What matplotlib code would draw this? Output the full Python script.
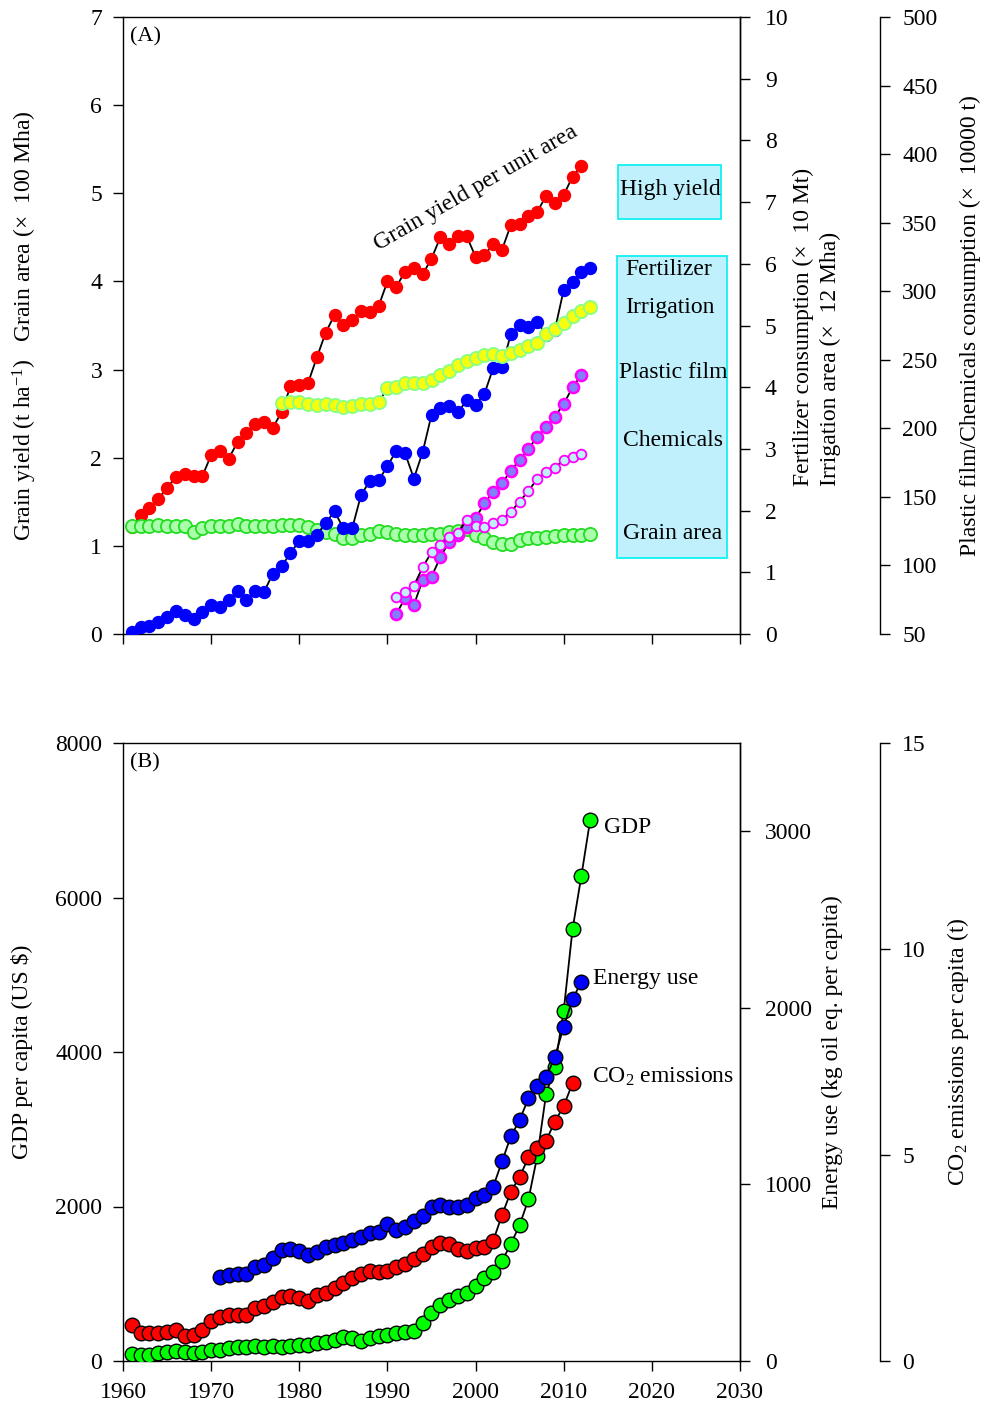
import matplotlib
matplotlib.use('Agg')
import matplotlib.pyplot as plt
from matplotlib import font_manager
from matplotlib.patches import Rectangle

# locate a Times-like serif font robustly
serif_name = 'Liberation Serif'
for path in font_manager.findSystemFonts():
    base = path.replace('\\', '/').split('/')[-1]
    if base.startswith('LiberationSerif-'):
        try:
            font_manager.fontManager.addfont(path)
            if base.startswith('LiberationSerif-Regular'):
                serif_name = font_manager.FontProperties(fname=path).get_name()
        except Exception:
            pass

plt.rcParams['font.family'] = [serif_name, 'DejaVu Serif']
plt.rcParams['mathtext.fontset'] = 'custom'
plt.rcParams['mathtext.rm'] = serif_name
plt.rcParams['mathtext.it'] = serif_name + ':italic'
plt.rcParams['mathtext.bf'] = serif_name + ':bold'

# ---------------- Panel A data ----------------
years_yield = list(range(1961, 2013))
grain_yield = [1.21, 1.35, 1.43, 1.53, 1.66, 1.78, 1.82, 1.79, 1.79, 2.03,
               2.08, 1.99, 2.18, 2.28, 2.38, 2.40, 2.34, 2.52, 2.81, 2.83,
               2.85, 3.14, 3.42, 3.62, 3.51, 3.56, 3.66, 3.65, 3.72, 4.00,
               3.94, 4.11, 4.15, 4.08, 4.26, 4.50, 4.42, 4.52, 4.51, 4.28,
               4.30, 4.42, 4.36, 4.64, 4.65, 4.74, 4.79, 4.97, 4.89, 4.98,
               5.19, 5.31]

years_fert = list(range(1961, 2014))
fertilizer = [0.04, 0.11, 0.13, 0.20, 0.27, 0.38, 0.31, 0.25, 0.36, 0.47,
              0.44, 0.55, 0.70, 0.55, 0.70, 0.68, 0.98, 1.10, 1.31, 1.51,
              1.50, 1.60, 1.80, 1.99, 1.71, 1.71, 2.25, 2.48, 2.49, 2.72,
              2.97, 2.93, 2.52, 2.95, 3.55, 3.66, 3.69, 3.59, 3.79, 3.71,
              3.89, 4.31, 4.33, 4.86, 5.01, 4.98, 5.06, 4.85, 4.93, 5.58,
              5.71, 5.87, 5.93]

years_area = list(range(1961, 2014))
grain_area = [1.22, 1.23, 1.22, 1.24, 1.22, 1.22, 1.22, 1.16, 1.20, 1.22,
              1.22, 1.23, 1.25, 1.22, 1.23, 1.23, 1.23, 1.24, 1.24, 1.24,
              1.21, 1.18, 1.16, 1.14, 1.09, 1.09, 1.12, 1.14, 1.17, 1.16,
              1.14, 1.12, 1.12, 1.12, 1.13, 1.14, 1.16, 1.17, 1.19, 1.12,
              1.09, 1.04, 1.02, 1.02, 1.07, 1.09, 1.09, 1.10, 1.11, 1.12,
              1.12, 1.12, 1.14]

years_irr = list(range(1978, 2014))
irrigation = [3.75, 3.76, 3.76, 3.73, 3.71, 3.73, 3.71, 3.68, 3.70, 3.72,
              3.73, 3.76, 3.98, 4.01, 4.06, 4.07, 4.07, 4.12, 4.20, 4.27,
              4.36, 4.43, 4.48, 4.52, 4.53, 4.51, 4.55, 4.60, 4.66, 4.71,
              4.87, 4.94, 5.04, 5.15, 5.24, 5.30]

years_pc = list(range(1991, 2013))
plastic_film = [64.6, 76.0, 71.2, 89.4, 91.8, 105.9, 117.3, 122.2, 127.8, 134.4,
                145.3, 153.8, 159.9, 169.1, 176.9, 184.9, 193.9, 201.2, 208.5, 217.8,
                229.9, 238.9]
chemicals = [77.2, 80.9, 85.2, 98.7, 109.6, 114.9, 120.5, 123.9, 133.2, 129.0,
             128.3, 131.2, 133.2, 139.2, 146.5, 154.5, 163.1, 167.9, 171.3, 176.9,
             179.3, 181.3]

# ---------------- Panel B data ----------------
years_gdp = list(range(1961, 2014))
gdp = [91, 78, 78, 108, 121, 134, 121, 108, 112, 142,
       142, 164, 177, 177, 194, 185, 194, 177, 194, 207,
       207, 229, 250, 272, 307, 294, 263, 294, 324, 337,
       358, 380, 392, 488, 625, 725, 790, 841, 884, 971,
       1070, 1156, 1294, 1515, 1760, 2093, 2650, 3456, 3810, 4535,
       5588, 6278, 7003]

years_energy = list(range(1971, 2013))
energy = [474, 487, 493, 493, 534, 544, 582, 629, 633, 625,
          600, 619, 647, 657, 668, 685, 704, 727, 733, 776,
          742, 757, 794, 821, 870, 883, 874, 870, 883, 921,
          940, 987, 1130, 1272, 1365, 1488, 1555, 1607, 1723, 1892,
          2049, 2147]

years_co2 = list(range(1961, 2012))
co2 = [0.87, 0.69, 0.67, 0.67, 0.71, 0.75, 0.61, 0.63, 0.75, 0.98,
       1.08, 1.12, 1.12, 1.12, 1.28, 1.33, 1.44, 1.56, 1.58, 1.52,
       1.46, 1.60, 1.66, 1.76, 1.90, 2.01, 2.11, 2.19, 2.17, 2.19,
       2.27, 2.35, 2.47, 2.60, 2.77, 2.87, 2.84, 2.71, 2.68, 2.74,
       2.77, 2.92, 3.54, 4.11, 4.47, 4.94, 5.16, 5.35, 5.81, 6.19,
       6.74]

xticks = [1960, 1970, 1980, 1990, 2000, 2010, 2020, 2030]
xtick_labels = [str(v) for v in xticks]

# ---------------- figure ----------------
W, H = 986, 1409
FS = 17
fig = plt.figure(figsize=(W / 100, H / 100), dpi=100)


def axes_rect(x0, y0, x1, y1):
    return [x0 / W, 1 - y1 / H, (x1 - x0) / W, (y1 - y0) / H]


third_pos = (880 - 123) / (740 - 123)
tick_kw = dict(direction='out', length=7, width=1, labelsize=FS)


def style_main(ax):
    for s in ax.spines.values():
        s.set_linewidth(1)
    ax.tick_params(axis='both', which='major', pad=8, **tick_kw)
    ax.tick_params(axis='x', top=False)
    ax.tick_params(axis='y', right=False)


def style_twin(ax, offset=None, pad=10):
    for name in ['left', 'top', 'bottom']:
        ax.spines[name].set_visible(False)
    ax.spines['right'].set_linewidth(1)
    if offset is not None:
        ax.spines['right'].set_position(('axes', offset))
    ax.tick_params(axis='y', pad=pad, **tick_kw)


line_kw = dict(color='black', lw=1.3)

# ---- Panel A ----
axA = fig.add_axes(axes_rect(123, 17, 740, 634))
axA.set_xlim(1960, 2030)
axA.set_ylim(0, 7)
axA.set_xticks(xticks)
axA.set_xticklabels([])
axA.set_yticks(range(0, 8))
style_main(axA)

axA.plot(years_yield, grain_yield, marker='o', ms=8.6, mfc='red', mec='red',
         zorder=3, **line_kw)
axA.plot(years_area, grain_area, marker='o', ms=9.5, mfc='#aaffaa', mec='#22dd22',
         mew=1.3, zorder=4, **line_kw)

axA2 = axA.twinx()
axA2.set_ylim(0, 10)
axA2.set_yticks(range(0, 11))
style_twin(axA2, pad=11)
axA2.plot(years_fert, fertilizer, marker='o', ms=8.6, mfc='blue', mec='blue',
          zorder=3, **line_kw)
axA2.plot(years_irr, irrigation, marker='o', ms=9.5, mfc='#f4ff10', mec='#88ff88',
          mew=1.3, zorder=4, **line_kw)

axA3 = axA.twinx()
axA3.set_ylim(50, 500)
axA3.set_yticks(range(50, 501, 50))
style_twin(axA3, third_pos, pad=9)
axA3.plot(years_pc, plastic_film, marker='o', ms=8, mfc='#8080ff', mec='#ff00ff',
          mew=1.8, zorder=3, **line_kw)
axA3.plot(years_pc, chemicals, marker='o', ms=7, mfc='#c0f0ff', mec='#ff00ff',
          mew=1.3, zorder=4, **line_kw)

axA.text(0.011, 0.968, '(A)', transform=axA.transAxes, fontsize=FS - 1,
         ha='left', va='center')
axA.text(2000, 5.06, 'Grain yield per unit area', rotation=30, fontsize=FS,
         ha='center', va='center')

box_kw = dict(facecolor='#bff0fc', edgecolor='#00f0f0', lw=1.2, zorder=1)
axA.add_patch(Rectangle((2016.14, 4.71), 11.7, 0.61, **box_kw))
axA.add_patch(Rectangle((2016.02, 0.863), 12.5, 3.43, **box_kw))
for label, xx, yy in [('High yield', 2022.05, 5.04), ('Fertilizer', 2021.9, 4.13),
                      ('Irrigation', 2022.05, 3.70), ('Plastic film', 2022.4, 2.97),
                      ('Chemicals', 2022.4, 2.19), ('Grain area', 2022.4, 1.135)]:
    axA.text(xx, yy, label, fontsize=FS, ha='center', va='center', zorder=2)

fig.text(25 / W, 1 - 326 / H,
         'Grain yield (t ha$^{-1}$)   Grain area (\u00d7  100 Mha)',
         rotation=90, ha='center', va='center', fontsize=FS)
fig.text(803 / W, 1 - 486 / H, 'Fertilizer consumption (\u00d7  10 Mt)',
         rotation=90, ha='center', va='bottom', fontsize=FS)
fig.text(830 / W, 1 - 486 / H, 'Irrigation area (\u00d7  12 Mha)',
         rotation=90, ha='center', va='bottom', fontsize=FS)
fig.text(970 / W, 1 - 326 / H, 'Plastic film/Chemicals consumption (\u00d7  10000 t)',
         rotation=90, ha='center', va='center', fontsize=FS)

# ---- Panel B ----
axB = fig.add_axes(axes_rect(123, 743, 740, 1361))
axB.set_xlim(1960, 2030)
axB.set_ylim(0, 8000)
axB.set_xticks(xticks)
axB.set_xticklabels(xtick_labels)
axB.set_yticks(range(0, 8001, 2000))
style_main(axB)

mkB = dict(marker='o', ms=10.5, mec='black', mew=1)
axB.plot(years_gdp, gdp, mfc='#00ff00', zorder=3, **mkB, **line_kw)

axB2 = axB.twinx()
axB2.set_ylim(0, 3500)
axB2.set_yticks(range(0, 3001, 1000))
style_twin(axB2, pad=11)
axB2.plot(years_energy, energy, mfc='blue', zorder=3, **mkB, **line_kw)

axB3 = axB.twinx()
axB3.set_ylim(0, 15)
axB3.set_yticks([0, 5, 10, 15])
style_twin(axB3, third_pos, pad=9)
axB3.plot(years_co2, co2, mfc='red', zorder=3, **mkB, **line_kw)

axB.text(0.011, 0.968, '(B)', transform=axB.transAxes, fontsize=FS - 1,
         ha='left', va='center')
axB.text(2014.55, 6900, 'GDP', fontsize=FS, ha='left', va='center')
axB.text(2013.3, 4945, 'Energy use', fontsize=FS, ha='left', va='center')
axB.text(2013.2, 3676, 'CO$_2$ emissions', fontsize=FS, ha='left', va='center')

fig.text(22 / W, 1 - 1052 / H, r'GDP per capita (US \$)', rotation=90,
         ha='center', va='center', fontsize=FS)
fig.text(832 / W, 1 - 1052 / H, 'Energy use (kg oil eq. per capita)', rotation=90,
         ha='center', va='center', fontsize=FS)
fig.text(958 / W, 1 - 1052 / H, 'CO$_2$ emissions per capita (t)', rotation=90,
         ha='center', va='center', fontsize=FS)

fig.savefig('out.png', dpi=100)
